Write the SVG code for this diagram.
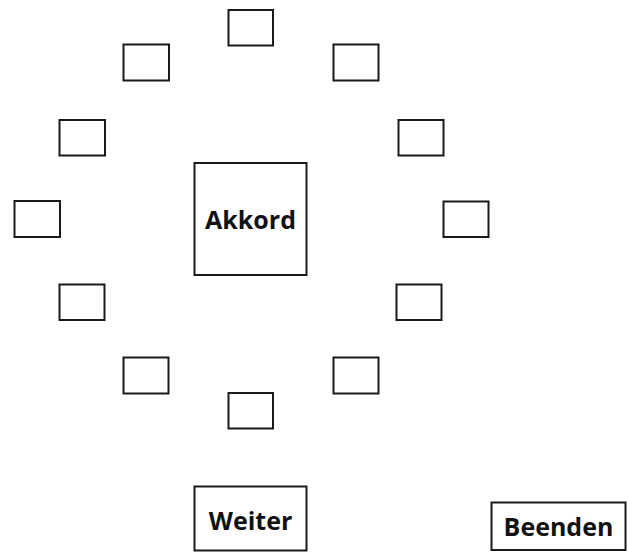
<svg xmlns="http://www.w3.org/2000/svg" width="628" height="552" viewBox="0 0 628 552">
<style>
.b{fill:#fff;stroke:#1a1a1a;stroke-width:2}
.t{font-family:"Open Sans","Liberation Sans",sans-serif;font-weight:700;font-size:25px;fill:#111;text-anchor:middle}
</style>
<rect width="628" height="552" fill="#fff"/>
<g id="slot1"><rect class="b" x="228.5" y="10" width="44.5" height="35.5"/></g>
<g id="slot2"><rect class="b" x="333.5" y="44.5" width="45" height="36"/></g>
<g id="slot3"><rect class="b" x="398.5" y="120" width="45" height="35.5"/></g>
<g id="slot4"><rect class="b" x="443.5" y="201.5" width="45" height="35.5"/></g>
<g id="slot5"><rect class="b" x="396.5" y="284.5" width="45" height="35.5"/></g>
<g id="slot6"><rect class="b" x="333.5" y="357.5" width="45" height="36"/></g>
<g id="slot7"><rect class="b" x="228.5" y="393" width="44.5" height="35.5"/></g>
<g id="slot8"><rect class="b" x="123.5" y="357.5" width="45" height="36"/></g>
<g id="slot9"><rect class="b" x="59.5" y="284.5" width="45" height="35.5"/></g>
<g id="slot10"><rect class="b" x="14.5" y="201" width="45.5" height="36"/></g>
<g id="slot11"><rect class="b" x="59.5" y="120" width="45.5" height="35.5"/></g>
<g id="slot12"><rect class="b" x="123.5" y="44.5" width="45.5" height="36"/></g>
<g id="akkord"><rect class="b" x="194.5" y="163" width="112" height="112"/><text class="t" x="250.5" y="228.5">Akkord</text></g>
<g id="weiter"><rect class="b" x="194.5" y="486.5" width="112" height="64"/><text class="t" x="250.5" y="529.5">Weiter</text></g>
<g id="beenden"><rect class="b" x="491.5" y="502.5" width="134" height="47.5"/><text class="t" x="558.5" y="536">Beenden</text></g>
<g id="connectors"/>
</svg>
